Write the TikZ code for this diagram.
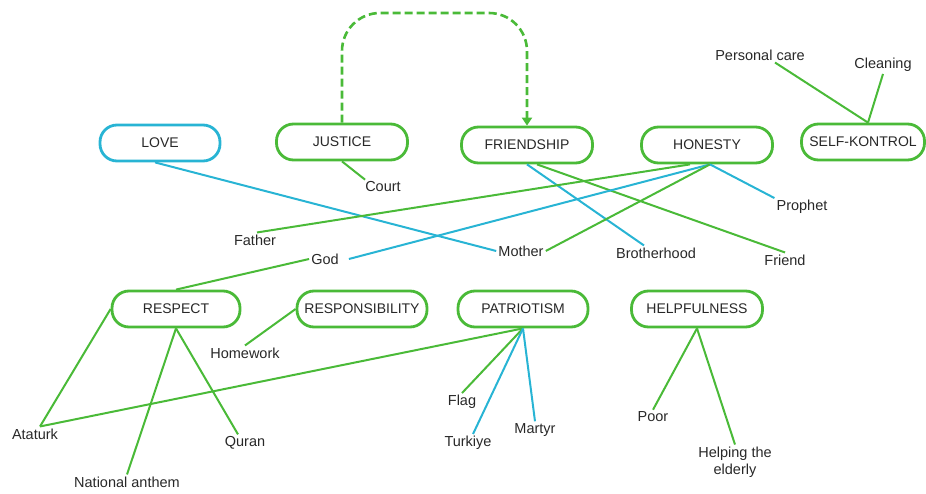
\documentclass[tikz,border=0pt]{standalone}
\usepackage{fontspec}
\setmainfont{Liberation Sans}
\usetikzlibrary{arrows.meta}
\definecolor{gr}{RGB}{74,186,56}
\definecolor{bl}{RGB}{40,180,212}
\definecolor{tx}{RGB}{40,40,40}
\tikzset{
  box/.style={draw=gr, line width=2.8pt, rounded corners=17pt, minimum height=36pt, minimum width=130pt, inner sep=2pt, text=tx, font=\fontsize{14}{16}\selectfont, fill=white},
  bbox/.style={box, draw=bl},
  lbl/.style={inner sep=2pt, text=tx, font=\fontsize{14.5}{17}\selectfont, align=center},
  gl/.style={draw=gr, line width=2pt},
  bln/.style={draw=bl, line width=2pt},
}
\begin{document}
\begin{tikzpicture}[x=1pt,y=-1pt]
\useasboundingbox (0,0) rectangle (926,494);
% boxes
\node[bbox, minimum width=120pt] (love) at (160,143) {LOVE};
\node[box, minimum width=131pt] (justice) at (342,142) {JUSTICE};
\node[box, minimum width=131pt] (friendship) at (527,145) {FRIENDSHIP};
\node[box, minimum width=131pt] (honesty) at (707,145) {HONESTY};
\node[box, minimum width=123pt] (self) at (863,142) {SELF-KONTROL};
\node[box, minimum width=128pt] (respect) at (176,309) {RESPECT};
\node[box, minimum width=130pt] (resp) at (362,309) {RESPONSIBILITY};
\node[box, minimum width=130pt] (patriot) at (523,309) {PATRIOTISM};
\node[box, minimum width=131pt] (help) at (697,309) {HELPFULNESS};
% labels
\node[lbl] (court) at (383,187) {Court};
\node[lbl] (prophet) at (802,207) {Prophet};
\node[lbl] (father) at (255,240) {Father};
\node[lbl] (god) at (325,259) {God};
\node[lbl] (mother) at (521,251) {Mother};
\node[lbl] (brother) at (656,253) {Brotherhood};
\node[lbl] (friend) at (785,260) {Friend};
\node[lbl] (pcare) at (760,55) {Personal care};
\node[lbl] (clean) at (883,65) {Cleaning};
\node[lbl] (homework) at (245,353) {Homework};
\node[lbl] (ataturk) at (35,434) {Ataturk};
\node[lbl] (anthem) at (127,482) {National anthem};
\node[lbl] (quran) at (245,443) {Quran};
\node[lbl] (flag) at (462,402) {Flag};
\node[lbl] (turkiye) at (468,443) {Turkiye};
\node[lbl] (martyr) at (535,430) {Martyr};
\node[lbl] (poor) at (653,417) {Poor};
\node[lbl] (elderly) at (735,462) {Helping the\\elderly};
\coordinate (top) at (0,13);
% connectors
\draw[bln] ([xshift=-5pt]love.south) -- (mother.west);
\draw[gl] (justice.south) -- ([xshift=2pt]court.north west);
\draw[bln] (friendship.south) -- ([xshift=-12pt]brother.north);
\draw[gl] ([xshift=10pt]friendship.south) -- (friend.north);
\draw[gl] ([xshift=-17pt]honesty.south) -- ([xshift=2pt]father.north);
\draw[bln] ([xshift=3pt]honesty.south) -- ([xshift=8pt]god.east);
\draw[gl] ([xshift=3pt]honesty.south) -- (mother.east);
\draw[bln] ([xshift=3pt]honesty.south) -- (prophet.north west);
\draw[gl] (god.west) -- (respect.north);
\draw[gl] (resp.west) -- (homework.north);
\draw[gl] (respect.west) -- ([xshift=5pt]ataturk.north);
\draw[gl] (respect.south) -- (anthem.north);
\draw[gl] (respect.south) -- ([xshift=-7pt]quran.north);
\draw[gl] ([xshift=5pt]ataturk.north) -- (patriot.south);
\draw[gl] (patriot.south) -- (flag.north);
\draw[bln] (patriot.south) -- ([xshift=5pt]turkiye.north);
\draw[bln] (patriot.south) -- (martyr.north);
\draw[gl] (help.south) -- (poor.north);
\draw[gl] (help.south) -- (elderly.north);
\draw[gl] ([xshift=5pt]self.north) -- ([xshift=15pt]pcare.south);
\draw[gl] ([xshift=5pt]self.north) -- (clean.south);
\draw[draw=gr, line width=2.6pt, dash pattern=on 8pt off 4pt, rounded corners=38pt, -{Triangle[length=8pt,width=10pt,fill=gr]}]
  (justice.north) -- (justice.north |- top) -- (friendship.north |- top) -- (friendship.north);
\end{tikzpicture}
\end{document}
